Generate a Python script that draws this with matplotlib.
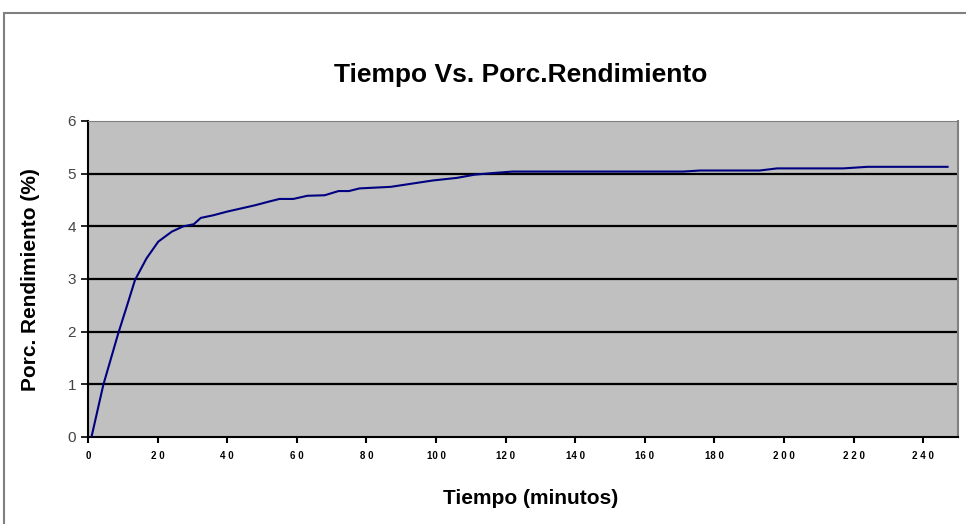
import matplotlib.pyplot as plt
from matplotlib.patches import Rectangle

plt.rcParams['font.family'] = ['Liberation Sans', 'DejaVu Sans']

# lectura aproximada de la curva
tiempo = [1, 4.4, 8.7, 11.1, 13.5, 16.8, 20.2, 24.1, 27.4, 30.4, 32.4, 36,
          40, 44, 48, 52, 55, 59, 63, 68, 72, 75, 78, 87, 92, 99, 106, 111,
          116, 122, 171, 176, 193, 198, 217, 224, 247]
rendimiento = [0, 0.99, 1.97, 2.47, 2.98, 3.39, 3.71, 3.90, 4.00, 4.04, 4.16,
               4.21, 4.28, 4.34, 4.40, 4.47, 4.52, 4.52, 4.58, 4.59, 4.67,
               4.67, 4.72, 4.75, 4.80, 4.87, 4.92, 4.98, 5.01, 5.04, 5.04,
               5.06, 5.06, 5.10, 5.10, 5.13, 5.13]

xticks = [0, 20, 40, 60, 80, 100, 120, 140, 160, 180, 200, 220, 240]
xlabels = ['0', '2 0', '4 0', '6 0', '8 0', '10 0', '12 0', '14 0', '16 0',
           '18 0', '2 0 0', '2 2 0', '2 4 0']
yticks = [0, 1, 2, 3, 4, 5, 6]

fig = plt.figure(figsize=(9.66, 5.24), dpi=100)
fig.patches.append(Rectangle((4 / 966, -0.2), 1.2, 0.2 + (524 - 13) / 524,
                             transform=fig.transFigure, fill=False,
                             edgecolor='#808080', lw=1.5))

ax = fig.add_axes([88 / 966, 87 / 524, 870 / 966, 316 / 524])
ax.set_facecolor('#C0C0C0')
ax.plot(tiempo, rendimiento, color='#000080', lw=1.5, zorder=3)

ax.set_xlim(0, 250)
ax.set_ylim(0, 6)
ax.set_xticks(xticks)
ax.set_xticklabels(xlabels, fontsize=7, fontweight='bold')
ax.set_yticks(yticks)
ax.tick_params(axis='y', labelsize=11, labelcolor='#444444', length=5,
               width=1.2, direction='out')
ax.tick_params(axis='x', length=4, width=1.5, direction='out', pad=6)
for v in yticks[1:-1]:
    ax.axhline(v, color='black', lw=1.6, zorder=2)

ax.spines['left'].set_linewidth(1.5)
ax.spines['bottom'].set_linewidth(1.5)
ax.spines['top'].set_color('#808080')
ax.spines['right'].set_color('#808080')
ax.spines['right'].set_linewidth(1.5)

fig.text(521 / 966, 1 - 75 / 524, 'Tiempo Vs. Porc.Rendimiento', ha='center',
         va='center', fontsize=19, fontweight='bold')
fig.text(531 / 966, 1 - 498 / 524, 'Tiempo (minutos)', ha='center',
         va='center', fontsize=15, fontweight='bold')
fig.text(31 / 966, 1 - 280 / 524, 'Porc. Rendimiento (%)', ha='center',
         va='center', rotation=90, fontsize=15, fontweight='bold')

fig.savefig('out.png', dpi=100)
